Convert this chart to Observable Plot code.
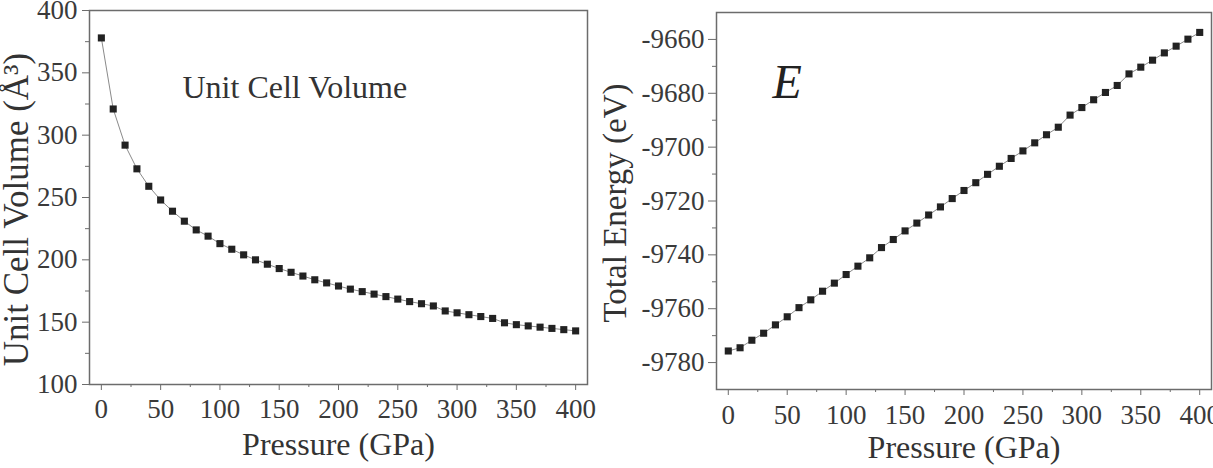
<!DOCTYPE html>
<html>
<head>
<meta charset="utf-8">
<script src="https://cdn.jsdelivr.net/npm/d3@7"></script>
<script src="https://cdn.jsdelivr.net/npm/@observablehq/plot@0.6"></script>
<style>
  html, body { margin: 0; padding: 0; background: #fff; overflow: hidden; }
  #wrap { position: relative; width: 1213px; height: 468px; }
  #left { position: absolute; left: 0; top: 0; }
  #right { position: absolute; left: 600px; top: 0; }
  svg text { font-family: 'Liberation Serif', 'Times New Roman', serif; }
</style>
</head>
<body>
<div id="wrap"><div id="left"></div><div id="right"></div></div>
<script>
// ---- data ----
const pressure = [0,10,20,30,40,50,60,70,80,90,100,110,120,130,140,150,160,170,180,190,200,
  210,220,230,240,250,260,270,280,290,300,310,320,330,340,350,360,370,380,390,400];
const volume = [378,321,292,273,259,248,239,231,224,219,213,208.5,204,200,196.5,193,190,187,184,181.5,179,
  176.5,174.5,172.5,170.5,168.5,166.5,164.8,163,159,157.5,156,154.5,153,149.5,148,147,146,145,144,143];
const energy = [-9775.7,-9774.5,-9771.7,-9769.1,-9766,-9763,-9759.6,-9756.7,-9753.5,-9750.5,-9747.3,
  -9744.2,-9741.1,-9737.3,-9734.3,-9731.1,-9728.2,-9725.2,-9722.2,-9719.1,-9716.1,-9713.2,-9710.1,
  -9707.1,-9704.2,-9701.4,-9698.4,-9695.4,-9692.6,-9688.1,-9685.3,-9682.4,-9679.7,-9677.1,-9672.8,
  -9670.3,-9667.7,-9665,-9662.5,-9659.9,-9657.4];
const xTicks = [0,50,100,150,200,250,300,350,400];
const xMinorTicks = [25,75,125,175,225,275,325,375];
const volTicks = [100,150,200,250,300,350,400];
const volMinorTicks = [125,175,225,275,325,375];
const energyTicks = [-9780,-9760,-9740,-9720,-9700,-9680,-9660];
const energyMinorTicks = [-9770,-9750,-9730,-9710,-9690,-9670];
const xTitle = "Pressure (GPa)";
const volTitle = "Unit Cell Volume (Å³)";
const energyTitle = "Total Energy (eV)";
const volNote = "Unit Cell Volume";
const energyNote = "E";

const volData = pressure.map((p, i) => ({p, v: volume[i]}));
const energyData = pressure.map((p, i) => ({p, e: energy[i]}));

const FONT = "'Liberation Serif', 'Times New Roman', serif";
const AX = "#6c6c6c";
const TXT = "#3a3a3a";

const left = Plot.plot({
  width: 600, height: 468,
  marginLeft: 89, marginRight: 13, marginTop: 10, marginBottom: 84,
  style: {fontFamily: FONT, fontSize: "27px", background: "transparent"},
  x: {domain: [-10, 410]},
  y: {domain: [100, 400]},
  marks: [
    Plot.axisX(xTicks, {anchor: "bottom", tickSize: 6, tickPadding: 8, stroke: AX, fill: TXT, tickFormat: String, label: null, fontSize: 27, fontFamily: FONT}),
    Plot.axisX(xMinorTicks, {anchor: "bottom", tickSize: 3, stroke: AX, text: null, label: null}),
    Plot.axisY(volTicks, {anchor: "left", tickSize: 7, tickPadding: 5, stroke: AX, fill: TXT, tickFormat: String, label: null, fontSize: 27, fontFamily: FONT}),
    Plot.axisY(volMinorTicks, {anchor: "left", tickSize: 4, stroke: AX, text: null, label: null}),
    Plot.frame({stroke: AX, strokeWidth: 1.5}),
    Plot.line(volData, {x: "p", y: "v", stroke: "#8a8a8a", strokeWidth: 1}),
    Plot.dot(volData, {x: "p", y: "v", symbol: "square", r: 4, fill: "#222", stroke: null}),
    Plot.text([volNote], {text: d => d, frameAnchor: "top-left", dx: 93, dy: 87, textAnchor: "start", lineAnchor: "bottom", fontSize: 32, fill: "#333", fontFamily: FONT}),
    Plot.text([xTitle], {text: d => d, frameAnchor: "bottom", dy: 70, textAnchor: "middle", lineAnchor: "bottom", fontSize: 32, fill: "#333", fontFamily: FONT}),
    Plot.text([volTitle], {text: d => d, frameAnchor: "left", rotate: -90, dx: -62, dy: 12, textAnchor: "middle", lineAnchor: "bottom", fontSize: 35, fill: "#333", fontFamily: FONT})
  ]
});
document.getElementById("left").appendChild(left);

const right = Plot.plot({
  width: 613, height: 468,
  marginLeft: 116, marginRight: 2, marginTop: 12, marginBottom: 79,
  style: {fontFamily: FONT, fontSize: "27px", background: "transparent"},
  x: {domain: [-10, 410]},
  y: {domain: [-9790, -9650]},
  marks: [
    Plot.axisX(xTicks, {anchor: "bottom", tickSize: 6, tickPadding: 9, stroke: AX, fill: TXT, tickFormat: String, label: null, fontSize: 27, fontFamily: FONT}),
    Plot.axisX(xMinorTicks, {anchor: "bottom", tickSize: 3, stroke: AX, text: null, label: null}),
    Plot.axisY(energyTicks, {anchor: "left", tickSize: 8, tickPadding: 4, stroke: AX, fill: TXT, tickFormat: String, label: null, fontSize: 27, fontFamily: FONT}),
    Plot.axisY(energyMinorTicks, {anchor: "left", tickSize: 4, stroke: AX, text: null, label: null}),
    Plot.frame({stroke: AX, strokeWidth: 1.5}),
    Plot.line(energyData, {x: "p", y: "e", stroke: "#8a8a8a", strokeWidth: 1}),
    Plot.dot(energyData, {x: "p", y: "e", symbol: "square", r: 4, fill: "#222", stroke: null}),
    Plot.text([energyNote], {text: d => d, frameAnchor: "top-left", dx: 56, dy: 85, textAnchor: "start", lineAnchor: "bottom", fontSize: 48, fontStyle: "italic", fill: "#222", fontFamily: FONT}),
    Plot.text([xTitle], {text: d => d, frameAnchor: "bottom", dy: 68, textAnchor: "middle", lineAnchor: "bottom", fontSize: 32, fill: "#333", fontFamily: FONT}),
    Plot.text([energyTitle], {text: d => d, frameAnchor: "left", rotate: -90, dx: -91, dy: 2, textAnchor: "middle", lineAnchor: "bottom", fontSize: 33, fill: "#333", fontFamily: FONT})
  ]
});
document.getElementById("right").appendChild(right);
</script>
</body>
</html>
